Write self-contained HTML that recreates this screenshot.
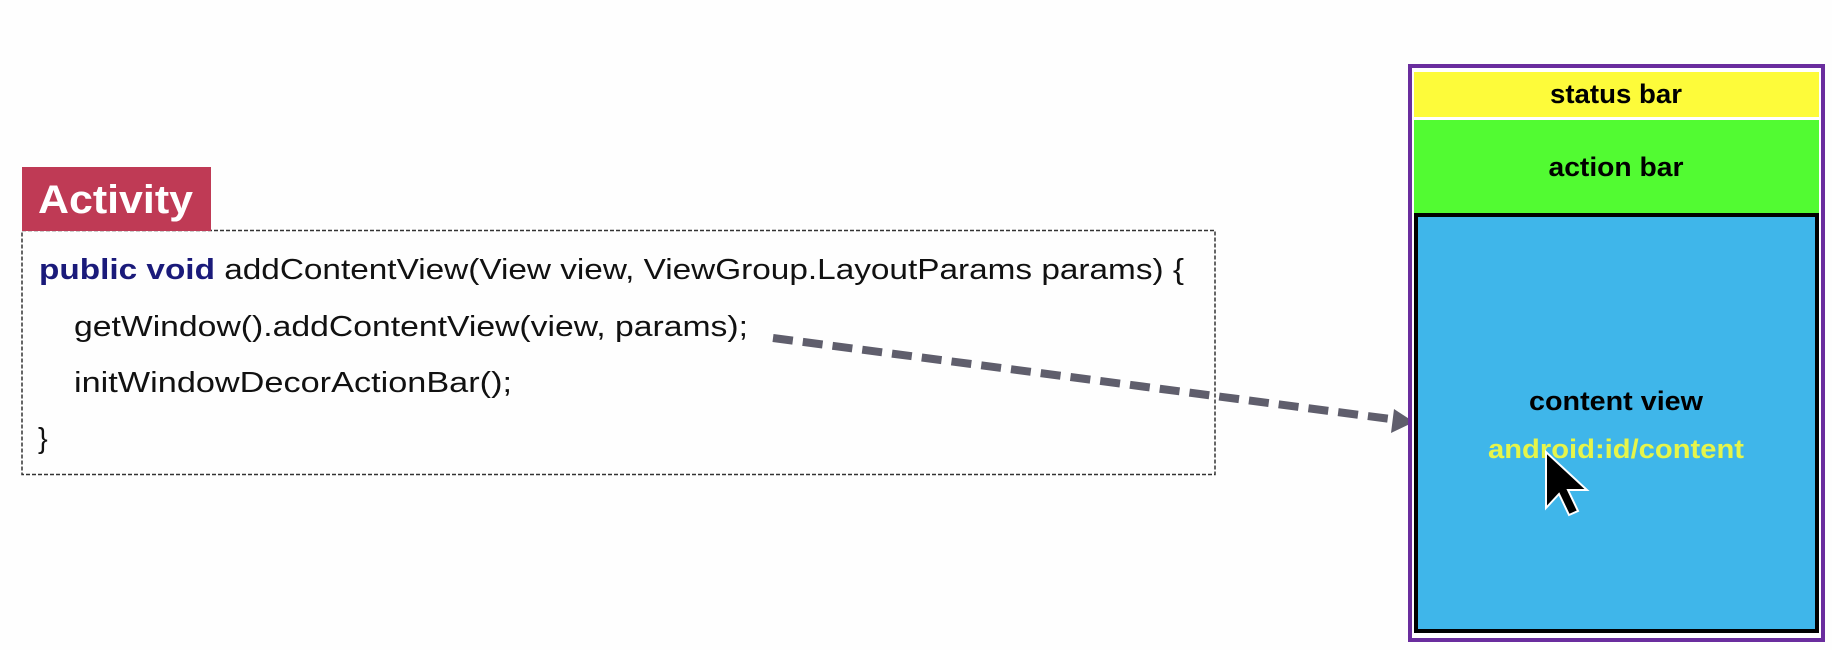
<!DOCTYPE html>
<html><head><meta charset="utf-8"><style>
html,body{margin:0;padding:0;background:#fff;}
svg{display:block;}
</style></head><body>
<svg width="1832" height="650" viewBox="0 0 1832 650" xmlns="http://www.w3.org/2000/svg">
<rect x="0" y="0" width="1832" height="650" fill="#fefefe"/>
<rect x="22" y="230.5" width="1193" height="244" fill="none" stroke="#333" stroke-width="1.5" stroke-dasharray="4,2"/>
<rect x="22" y="167" width="189" height="64" fill="#bf3a55"/>
<text x="38" y="213" font-family="Liberation Sans, sans-serif" font-weight="bold" font-size="40" fill="#fff" textLength="155" lengthAdjust="spacingAndGlyphs">Activity</text>
<g font-family="Liberation Sans, sans-serif" font-size="29" fill="#111">
<text x="39" y="279" textLength="1145" lengthAdjust="spacingAndGlyphs"><tspan fill="#1a1a7a" font-weight="bold">public void</tspan> addContentView(View view, ViewGroup.LayoutParams params) {</text>
<text x="74" y="336" textLength="674" lengthAdjust="spacingAndGlyphs">getWindow().addContentView(view, params);</text>
<text x="74" y="392" textLength="438" lengthAdjust="spacingAndGlyphs">initWindowDecorActionBar();</text>
<text x="38" y="448">}</text>
</g>
<line x1="773" y1="338" x2="1398" y2="420" stroke="#5f5e6c" stroke-width="8" stroke-dasharray="20,10"/>
<polygon points="1414,422 1394,409 1391,433" fill="#5f5e6c"/>
<rect x="1410" y="66" width="413" height="574" fill="#fff" stroke="#6a2d9e" stroke-width="4"/>
<rect x="1414" y="72" width="405" height="45" fill="#fdfb3a"/>
<rect x="1414" y="120" width="405" height="95" fill="#52fb32"/>
<rect x="1416" y="215" width="401" height="416" fill="#3fb6ea" stroke="#000" stroke-width="4"/>
<g font-family="Liberation Sans, sans-serif" font-weight="bold" font-size="27" text-anchor="middle">
<text x="1616" y="103" fill="#000" textLength="132" lengthAdjust="spacingAndGlyphs">status bar</text>
<text x="1616" y="176" fill="#000" textLength="135" lengthAdjust="spacingAndGlyphs">action bar</text>
<text x="1616" y="410" fill="#000" textLength="174" lengthAdjust="spacingAndGlyphs">content view</text>
<text x="1616" y="458" fill="#e6f54a" textLength="256" lengthAdjust="spacingAndGlyphs">android:id/content</text>
</g>
<polygon points="1546,452 1546,508 1559,494 1569,515 1578,511 1568,490 1587,490" fill="#000" stroke="#fff" stroke-width="2"/>
</svg>
</body></html>
